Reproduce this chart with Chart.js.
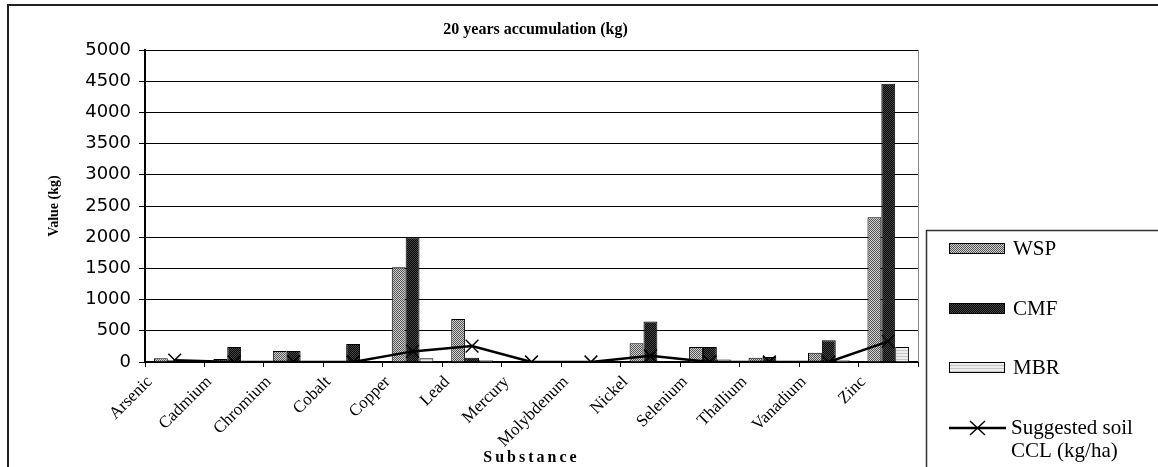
<!DOCTYPE html>
<html>
<head>
<meta charset="utf-8">
<script src="https://cdn.jsdelivr.net/npm/chart.js@4"></script>
<style>
  html, body { margin: 0; padding: 0; background: #fff; }
  #wrap { width: 1158px; height: 467px; }
</style>
</head>
<body>
<div id="wrap"><canvas id="barChart" width="1158" height="467"></canvas></div>
<script>
const categories = ["Arsenic", "Cadmium", "Chromium", "Cobalt", "Copper", "Lead", "Mercury",
  "Molybdenum", "Nickel", "Selenium", "Thallium", "Vanadium", "Zinc"];
const wsp = [60, 50, 175, 0, 1520, 690, 0, 0, 300, 240, 70, 150, 2320];
const cmf = [30, 240, 175, 290, 2000, 70, 0, 0, 650, 240, 80, 350, 4460];
const mbr = [0, 0, 0, 10, 60, 30, 0, 0, 0, 40, 0, 30, 240];
const ccl = [30, 0, 0, 0, 170, 255, 0, 0, 100, 0, 0, 0, 330];
const yTicks = [0, 500, 1000, 1500, 2000, 2500, 3000, 3500, 4000, 4500, 5000];

function makePattern(c1, c2) {
  const p = document.createElement("canvas");
  p.width = 2; p.height = 2;
  const g = p.getContext("2d");
  g.fillStyle = c1; g.fillRect(0, 0, 2, 2);
  g.fillStyle = c2; g.fillRect(0, 0, 1, 1); g.fillRect(1, 1, 1, 1);
  return g.createPattern(p, "repeat");
}
function makeLines(c1, c2) {
  const p = document.createElement("canvas");
  p.width = 2; p.height = 3;
  const g = p.getContext("2d");
  g.fillStyle = c1; g.fillRect(0, 0, 2, 3);
  g.fillStyle = c2; g.fillRect(0, 2, 2, 1);
  return g.createPattern(p, "repeat");
}

const wspFill = makePattern("#d0d0d0", "#555555");
const cmfFill = makePattern("#0a0a0a", "#444444");
const mbrFill = makeLines("#eeeeee", "#c4c4c4");

const serif = "'Liberation Serif', 'Times New Roman', serif";

// frame, plot border, titles and legend
const decor = {
  id: "decor",
  beforeDraw(chart) {
    const ctx = chart.ctx;
    ctx.save();
    ctx.strokeStyle = "#222";
    ctx.lineWidth = 2;
    ctx.beginPath();
    ctx.moveTo(1160, 5);
    ctx.lineTo(8, 5);
    ctx.lineTo(8, 470);
    ctx.stroke();
    ctx.restore();
  },
  afterDraw(chart) {
    const ctx = chart.ctx;
    const a = chart.chartArea;
    ctx.save();
    ctx.strokeStyle = "#000";
    ctx.lineWidth = 1;
    ctx.beginPath();
    ctx.moveTo(a.left, a.top + 0.5);
    ctx.lineTo(a.right + 0.5, a.top + 0.5);
    ctx.stroke();
    ctx.strokeStyle = "#888";
    ctx.beginPath();
    ctx.moveTo(a.right + 0.5, a.top);
    ctx.lineTo(a.right + 0.5, a.bottom);
    ctx.stroke();

    // chart title
    ctx.fillStyle = "#000";
    ctx.textAlign = "center";
    ctx.textBaseline = "middle";
    ctx.font = "bold 16px " + serif;
    ctx.fillText("20 years accumulation (kg)", (a.left + a.right) / 2 + 4, 30);

    // x axis title
    ctx.font = "bold 16px " + serif;
    ctx.letterSpacing = "3px";
    ctx.fillText("Substance", (a.left + a.right) / 2, 458);
    ctx.letterSpacing = "0px";

    // legend
    ctx.strokeStyle = "#333";
    ctx.lineWidth = 1.5;
    ctx.beginPath();
    ctx.moveTo(926.5, 470);
    ctx.lineTo(926.5, 230.5);
    ctx.lineTo(1160, 230.5);
    ctx.stroke();

    const ds = chart.data.datasets;
    const rows = [248, 308, 367];
    ctx.font = "21px " + serif;
    ctx.textAlign = "left";
    for (let i = 0; i < 3; i++) {
      const y = rows[i];
      ctx.fillStyle = ds[i].backgroundColor;
      ctx.fillRect(949, y - 5, 55, 10);
      ctx.strokeStyle = "#000";
      ctx.lineWidth = 1;
      ctx.strokeRect(949.5, y - 4.5, 55, 10);
      ctx.fillStyle = "#000";
      ctx.fillText(ds[i].label, 1013, y + 1);
    }
    const ly = 428;
    ctx.strokeStyle = "#000";
    ctx.lineWidth = 2.5;
    ctx.beginPath();
    ctx.moveTo(949, ly);
    ctx.lineTo(1006, ly);
    ctx.stroke();
    ctx.lineWidth = 1.5;
    ctx.beginPath();
    ctx.moveTo(970, ly - 7); ctx.lineTo(985, ly + 7);
    ctx.moveTo(985, ly - 7); ctx.lineTo(970, ly + 7);
    ctx.stroke();
    ctx.fillStyle = "#000";
    ctx.fillText("Suggested soil", 1011, ly);
    ctx.fillText("CCL (kg/ha)", 1011, ly + 23);
    ctx.restore();
  }
};

const data = {
  labels: categories,
  datasets: [
    {
      label: "WSP",
      data: wsp,
      backgroundColor: wspFill,
      borderColor: "#000",
      borderWidth: 1,
      order: 1,
    },
    {
      label: "CMF",
      data: cmf,
      backgroundColor: cmfFill,
      borderColor: "#000",
      borderWidth: 1,
      order: 1,
    },
    {
      label: "MBR",
      data: mbr,
      backgroundColor: mbrFill,
      borderColor: "#000",
      borderWidth: 1,
      order: 1,
    },
    {
      type: "line",
      label: "Suggested soil CCL (kg/ha)",
      data: ccl,
      borderColor: "#000",
      borderWidth: 2.5,
      pointStyle: "crossRot",
      pointRadius: 9,
      pointBorderWidth: 1.5,
      pointBorderColor: "#000",
      tension: 0,
      order: 0,
    },
  ],
};

const config = {
  type: "bar",
  data: data,
  options: {
    responsive: false,
    animation: false,
    layout: { padding: { left: 0, right: 240, top: 50, bottom: 0 } },
    datasets: { bar: { categoryPercentage: 0.7, barPercentage: 1 } },
    plugins: {
      legend: { display: false },
      tooltip: { enabled: false },
    },
    scales: {
      x: {
        afterFit: (s) => { s.height = 105; },
        grid: { drawOnChartArea: false, drawTicks: true, tickLength: 5, color: "#000", offset: true },
        border: { color: "#000", width: 2 },
        ticks: {
          color: "#000",
          font: { family: serif, size: 17 },
          maxRotation: 45,
          minRotation: 45,
          autoSkip: false,
          labelOffset: -25,
          padding: 5,
        },
      },
      y: {
        min: 0,
        max: 5000,
        afterFit: (s) => { s.width = 145; },
        afterBuildTicks: (s) => { s.ticks = yTicks.map((v) => ({ value: v })); },
        grid: { color: "#000", lineWidth: 1, tickLength: 6 },
        border: { color: "#000", width: 2 },
        ticks: {
          color: "#000",
          font: { family: "'DejaVu Sans', Arial, sans-serif", size: 18 },
          padding: 8,
          callback: (v) => String(v),
        },
        title: {
          display: true,
          text: "Value (kg)",
          color: "#000",
          font: { family: serif, size: 14, weight: "bold" },
          padding: { top: 46, bottom: 0 },
        },
      },
    },
  },
  plugins: [decor],
};

const barChart = document.getElementById("barChart");
chart = new Chart(barChart, config);
</script>
</body>
</html>
